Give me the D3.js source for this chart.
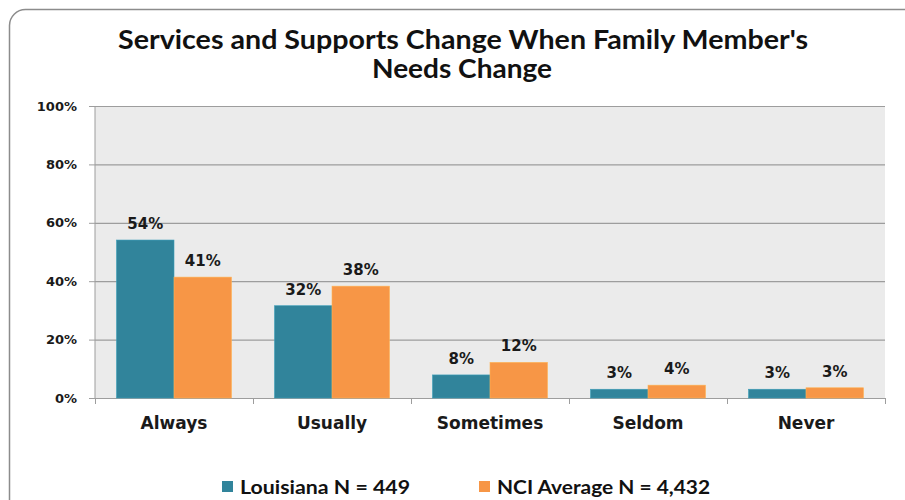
<!DOCTYPE html>
<html><head><meta charset="utf-8">
<script src="https://cdn.jsdelivr.net/npm/d3@7"></script>
<style>body{margin:0;background:#fff}svg{display:block}</style>
</head><body>
<svg id="c" width="905" height="500"></svg>
<script>
const categories = ["Always","Usually","Sometimes","Seldom","Never"];
const seriesNames = ["Louisiana N = 449","NCI Average N = 4,432"];
const louisiana = [54.1, 31.6, 7.9, 3.0, 3.0];
const nciAverage = [41.4, 38.3, 12.2, 4.4, 3.5];
const louisianaLabels = ["54%","32%","8%","3%","3%"];
const nciLabels = ["41%","38%","12%","4%","3%"];
const yTicks = [0,20,40,60,80,100];
const colors = ["#31849b","#f79646"];

const svg = d3.select("#c");
svg.append("rect").attr("x",9.5).attr("y",9.5).attr("width",920).attr("height",520)
  .attr("rx",16).attr("fill","#fff").attr("stroke","#8c8c8c").attr("stroke-width",1.5);

const L=95, R=885, T=106, B=398;
const x0 = d3.scaleBand().domain(categories).range([L,R]).paddingInner(0).paddingOuter(0);
const x1 = d3.scaleBand().domain([0,1]).range([0,x0.bandwidth()]).paddingOuter(0.374).paddingInner(0);
const y = d3.scaleLinear().domain([0,100]).range([B,T]);

svg.append("rect").attr("x",L).attr("y",T).attr("width",R-L).attr("height",B-T).attr("fill","#ebebeb");
svg.append("g").selectAll("line").data(yTicks.filter(d=>d>0)).join("line")
  .attr("x1",L).attr("x2",R).attr("y1",d=>y(d)+0.5).attr("y2",d=>y(d)+0.5)
  .attr("stroke","#9d9d9d").attr("stroke-width",1.2);

const yAxis = svg.append("g").attr("transform",`translate(${L},0)`)
  .call(d3.axisLeft(y).tickValues(yTicks).tickFormat(d=>d+"%").tickSize(6).tickPadding(12));
yAxis.select(".domain").attr("stroke","#9d9d9d").attr("d",`M0,${T}V${B}`);
yAxis.selectAll(".tick line").attr("stroke","#9d9d9d");
yAxis.selectAll("text").attr("font-family","DejaVu Sans").attr("font-weight","bold")
  .attr("font-size",13).attr("fill","#1a1a1a");

const xAxis = svg.append("g").attr("transform",`translate(0,${B})`)
  .call(d3.axisBottom(x0).tickSize(0).tickPadding(19));
xAxis.select(".domain").attr("stroke","#9d9d9d").attr("d",`M${L},0.5H${R}`);
xAxis.selectAll("text").attr("font-family","DejaVu Sans").attr("font-weight","bold")
  .attr("font-size",17).attr("fill","#1a1a1a");
svg.append("g").selectAll("line").data(d3.range(categories.length+1)).join("line")
  .attr("x1",i=>L+i*x0.step()+0.5).attr("x2",i=>L+i*x0.step()+0.5)
  .attr("y1",B).attr("y2",B+6).attr("stroke","#9d9d9d");

const series = [louisiana, nciAverage];
const labels = [louisianaLabels, nciLabels];
series.forEach((vals,si)=>{
  const g = svg.append("g");
  g.selectAll("rect").data(vals).join("rect")
    .attr("x",(d,i)=>x0(categories[i])+x1(si))
    .attr("width",x1.bandwidth())
    .attr("y",d=>y(d)).attr("height",d=>B-y(d))
    .attr("fill",colors[si]).attr("stroke",d3.color(colors[si]).brighter(0.5)).attr("stroke-width",0.6);
  g.selectAll("text").data(vals).join("text")
    .attr("x",(d,i)=>x0(categories[i])+x1(si)+x1.bandwidth()/2)
    .attr("y",d=>y(d)-11)
    .attr("text-anchor","middle")
    .attr("font-family","DejaVu Sans").attr("font-weight","bold").attr("font-size",15)
    .attr("fill","#1a1a1a")
    .text((d,i)=>labels[si][i]);
});

const tFont = {family:"Lato", size:26};
svg.append("text").attr("x",463).attr("y",49).attr("text-anchor","middle")
  .attr("font-family",tFont.family).attr("font-weight","bold").attr("font-size",tFont.size).attr("fill","#111")
  .attr("textLength",690).attr("lengthAdjust","spacingAndGlyphs")
  .text("Services and Supports Change When Family Member's");
svg.append("text").attr("x",462).attr("y",78).attr("text-anchor","middle")
  .attr("font-family",tFont.family).attr("font-weight","bold").attr("font-size",tFont.size).attr("fill","#111")
  .attr("textLength",180).attr("lengthAdjust","spacingAndGlyphs")
  .text("Needs Change");

const legX = [222, 479];
const legW = [170, 213];
seriesNames.forEach((n,i)=>{
  svg.append("rect").attr("x",legX[i]).attr("y",481).attr("width",11).attr("height",11).attr("fill",colors[i]);
  svg.append("text").attr("x",legX[i]+18).attr("y",494).attr("font-family","Lato").attr("font-weight","bold")
    .attr("font-size",19).attr("fill","#111")
    .attr("textLength",legW[i]).attr("lengthAdjust","spacingAndGlyphs").text(n);
});
</script>
</body></html>
